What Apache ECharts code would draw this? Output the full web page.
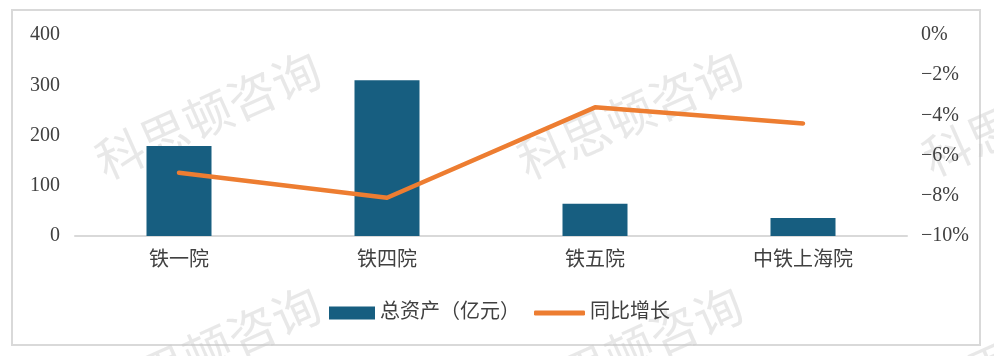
<!DOCTYPE html>
<html>
<head>
<meta charset="utf-8">
<script src="https://cdn.jsdelivr.net/npm/echarts@6/dist/echarts.min.js"></script>
<style>html,body{margin:0;padding:0;background:#fff;}#c{width:994px;height:356px;}</style>
</head>
<body>
<div id="c"></div>
<script>
var categories = ['铁一院', '铁四院', '铁五院', '中铁上海院'];
var totalAssets = [179, 310, 64, 36];
var yoyGrowth = [-6.85, -8.1, -3.6, -4.4];
var leftTicks = [0, 100, 200, 300, 400];
var rightTicks = [0, -2, -4, -6, -8, -10];
var seriesNames = ['总资产（亿元）', '同比增长'];
var watermarkText = '科思顿咨询';

var FONT = '"Liberation Serif", "Noto Sans CJK SC", serif';
var chart = echarts.init(document.getElementById('c'));

var wmPos = [[208, 115], [630, 115], [1035, 112], [208, 350], [630, 350], [1035, 347]];
var graphics = [{
  type: 'rect', z: -10,
  shape: {x: 12, y: 10, width: 968, height: 335},
  style: {fill: '#fff', stroke: '#d9d9d9', lineWidth: 2}
}];
wmPos.forEach(function (p) {
  graphics.push({
    type: 'text', z: -5, x: p[0], y: p[1], rotation: 0.42,
    style: {text: watermarkText, font: '48px "Noto Sans CJK SC"', fill: 'rgba(200,200,200,0.42)',
            align: 'center', verticalAlign: 'middle'}
  });
});

chart.setOption({
  animation: false,
  textStyle: {fontFamily: FONT},
  graphic: graphics,
  grid: {left: 75, right: 87, top: 35, bottom: 120, containLabel: false},
  legend: [{
    left: 324, top: 298, itemWidth: 46, itemHeight: 13,
    textStyle: {fontSize: 20, color: '#404040', fontFamily: FONT},
    data: [{name: seriesNames[0], icon: 'rect'}]
  }, {
    left: 529, top: 298, itemWidth: 51, itemHeight: 5,
    textStyle: {fontSize: 20, color: '#404040', fontFamily: FONT},
    data: [{name: seriesNames[1], icon: 'roundRect', itemStyle: {color: '#ED7D31', borderWidth: 0}}]
  }],
  xAxis: {
    type: 'category', data: categories,
    axisLine: {lineStyle: {color: '#d9d9d9', width: 2}},
    axisTick: {show: false},
    axisLabel: {fontSize: 20, color: '#404040', margin: 15, fontFamily: FONT}
  },
  yAxis: [{
    type: 'value', min: leftTicks[0], max: leftTicks[leftTicks.length - 1], interval: 100,
    splitLine: {show: false}, axisLine: {show: false}, axisTick: {show: false},
    axisLabel: {fontSize: 20, color: '#404040', margin: 15, fontFamily: FONT}
  }, {
    type: 'value', min: rightTicks[rightTicks.length - 1], max: rightTicks[0], interval: 2,
    splitLine: {show: false}, axisLine: {show: false}, axisTick: {show: false},
    axisLabel: {fontSize: 20, color: '#404040', margin: 14, fontFamily: FONT,
      formatter: function (v) { return (v < 0 ? '\u2212' + Math.abs(v) : v) + '%'; }}
  }],
  series: [{
    name: seriesNames[0], type: 'bar', data: totalAssets, yAxisIndex: 0,
    barWidth: 65, itemStyle: {color: '#175E80'}
  }, {
    name: seriesNames[1], type: 'line', data: yoyGrowth, yAxisIndex: 1,
    symbol: 'none', smooth: false,
    lineStyle: {color: '#ED7D31', width: 4.5, cap: 'round', join: 'round'},
    itemStyle: {color: '#ED7D31'}
  }]
});
</script>
</body>
</html>
